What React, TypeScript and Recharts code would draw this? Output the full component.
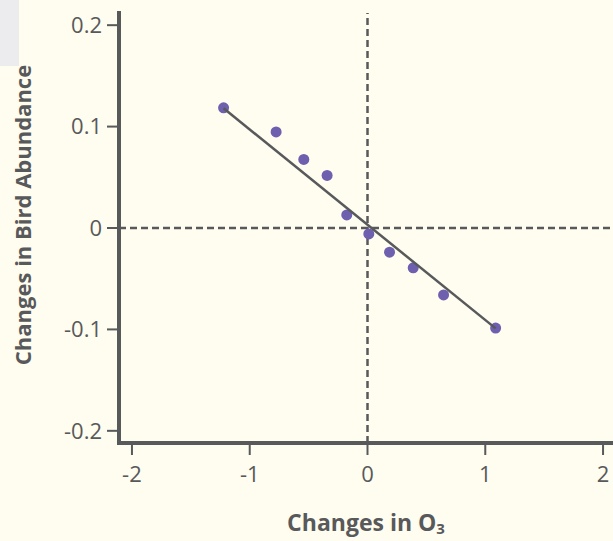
import { ScatterChart, Scatter, XAxis, YAxis, ReferenceLine } from "recharts";

const ozoneChange = [-1.222, -0.776, -0.541, -0.343, -0.176, 0.011, 0.187, 0.388, 0.646, 1.088];
const birdChange = [0.1185, 0.0947, 0.0676, 0.0518, 0.0129, -0.0059, -0.0238, -0.0393, -0.066, -0.0987];
const fitX = [-1.222, 1.088];
const fitY = [0.118, -0.099];
const xTicks = [-2, -1, 0, 1, 2];
const yTicks = [-0.2, -0.1, 0, 0.1, 0.2];

const ink = "#58595b";
const dotColor = "#6f5faf";
const font = "'Open Sans', 'Noto Sans', sans-serif";

const points = ozoneChange.map((x, i) => ({ x, y: birdChange[i] }));
const fit = fitX.map((x, i) => ({ x, y: fitY[i] }));

const Dot = (props: any) => <circle cx={props.cx} cy={props.cy} r={5.5} fill={dotColor} />;

export default function App() {
  return (
    <div
      style={{
        position: "absolute",
        left: 0,
        top: 0,
        width: 613,
        height: 541,
        overflow: "hidden",
        background: "#fffdef",
      }}
    >
      <div style={{ position: "absolute", left: 0, top: 0, width: 19, height: 66, background: "#ececef" }} />
      <ScatterChart width={616} height={541} margin={{ top: 13, right: 0, left: 0, bottom: 0 }}>
        <ReferenceLine x={0} stroke={ink} strokeWidth={2.5} strokeDasharray="7 4" />
        <ReferenceLine y={0} stroke={ink} strokeWidth={2.5} strokeDasharray="7 4" />
        <XAxis
          type="number"
          dataKey="x"
          domain={[-2.11, 2.11]}
          ticks={xTicks}
          allowDataOverflow
          height={98}
          axisLine={{ stroke: ink, strokeWidth: 4, strokeLinecap: "square" }}
          tickLine={{ stroke: ink, strokeWidth: 2 }}
          tickSize={12}
          tickMargin={11}
          tick={{ fill: ink, fontSize: 22, fontFamily: font }}
          label={{
            content: () => (
              <text x={366} y={531} textAnchor="middle" fill={ink} fontFamily={font} fontWeight={700} fontSize={23}>
                Changes in O
                <tspan fontSize={15} dy={3}>3</tspan>
              </text>
            ),
          }}
        />
        <YAxis
          type="number"
          dataKey="y"
          domain={[-0.212, 0.212]}
          ticks={yTicks}
          allowDataOverflow
          width={119}
          axisLine={{ stroke: ink, strokeWidth: 4, strokeLinecap: "square" }}
          tickLine={{ stroke: ink, strokeWidth: 2 }}
          tickSize={12}
          tickMargin={5}
          tick={{ fill: ink, fontSize: 22, fontFamily: font }}
          label={{
            content: () => (
              <text
                x={22}
                y={215}
                transform="rotate(-90 22 215)"
                textAnchor="middle"
                dominantBaseline="central"
                fill={ink}
                fontFamily={font}
                fontWeight={700}
                fontSize={22}
              >
                Changes in Bird Abundance
              </text>
            ),
          }}
        />
        <Scatter data={points} shape={Dot} isAnimationActive={false} />
        <Scatter
          data={fit}
          line={{ stroke: ink, strokeWidth: 2.5 }}
          shape={() => null}
          isAnimationActive={false}
        />
      </ScatterChart>
    </div>
  );
}
